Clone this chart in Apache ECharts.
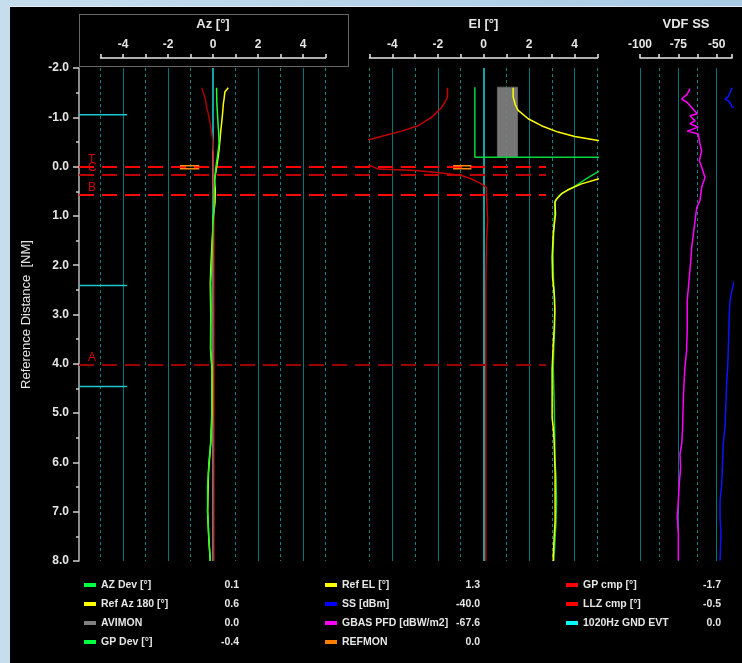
<!DOCTYPE html>
<html><head><meta charset="utf-8">
<script src="https://cdn.jsdelivr.net/npm/echarts@6/dist/echarts.min.js"></script>
<style>
html,body{margin:0;padding:0;width:742px;height:663px;overflow:hidden;background:linear-gradient(90deg,#c6ddee 0%,#a8cae4 100%);}
#panel{position:absolute;left:10px;top:6px;width:732px;height:657px;background:#000;border-top:1px solid #e3ecf4;box-sizing:border-box;}
#chart{position:absolute;left:0;top:0;width:742px;height:663px;}
</style></head><body><div id="panel"></div><div id="chart"></div>
<script>
// ---------- data ----------
const distMin = -2, distMax = 8;
const azLabelValues = [-4, -2, 0, 2, 4];
const elLabelValues = [-4, -2, 0, 2, 4];
const vdfLabelValues = [-100, -75, -50];
const zeroLines = [0];

const thresholdNames = ['T', 'C', 'B', 'A'];
const thresholdDist = [0.0, 0.16, 0.575, 4.01];
const thresholdColors = ['#ff0000', '#c00000', '#ff0a0a', '#9a0000'];

const gndEvtDist = [-1.05, 2.41, 4.46];

// [deg, NM]
const azDev = [[0.16,-1.6],[0.17,-1.3],[0.19,-1.14],[0.22,-0.9],[0.25,-0.7],[0.27,-0.46],[0.19,-0.19],[0.13,0.01],[0.09,0.22],[0.06,0.49],[0.04,0.83],[-0.01,1.23],[-0.03,1.6],[-0.06,2.0],[-0.1,2.35],[-0.09,2.8],[-0.1,3.3],[-0.1,3.7],[-0.04,4.1],[-0.05,4.6],[-0.06,5.2],[-0.1,5.6],[-0.18,6.0],[-0.24,6.5],[-0.24,7.0],[-0.19,7.5],[-0.12,8.0]];
const refAz180 = [[0.68,-1.6],[0.6,-1.57],[0.53,-1.52],[0.5,-1.4],[0.46,-1.27],[0.42,-1.05],[0.38,-0.87],[0.34,-0.7],[0.31,-0.53],[0.27,-0.35],[0.23,-0.19],[0.16,0.01],[0.06,0.28],[0.1,0.45],[0.09,0.72],[0.02,1.0],[0.0,1.23],[-0.05,1.6],[-0.1,2.1],[-0.12,2.35],[-0.1,3.0],[-0.11,3.7],[-0.04,4.15],[-0.05,5.0],[-0.1,5.6],[-0.2,6.2],[-0.24,7.0],[-0.18,7.6],[-0.12,8.0]];
const llzCmpUpper = [[-0.5,-1.6],[-0.43,-1.5],[-0.36,-1.41],[-0.28,-1.2],[-0.21,-1.07],[-0.15,-0.93],[-0.1,-0.8],[-0.04,-0.62],[-0.01,-0.53],[0.01,-0.32]];
const llzCmpLower = [[0.01,-0.32],[0.02,0.0],[0.03,1.0],[0.03,8.0]];

const gpCmp = [[-1.58,-1.6],[-1.58,-1.41],[-1.7,-1.3],[-1.84,-1.2],[-2.05,-1.1],[-2.28,-1.0],[-2.86,-0.83],[-3.6,-0.72],[-4.33,-0.63],[-4.91,-0.56],[-6.5,-0.45],[-7.5,-0.2],[-6.2,-0.04],[-4.91,-0.01],[-4.62,0.05],[-3.01,0.08],[-1.99,0.12],[-0.96,0.18],[-0.53,0.25],[-0.09,0.35],[0.12,0.42],[0.18,0.46],[0.18,1.1],[0.13,1.5],[0.1,2.5],[0.1,8.0]];
const gpDev = [[-0.38,-1.61],[-0.38,-0.19],[9,-0.19],[9,-0.05],[6.5,0.03],[5.03,0.10],[4.5,0.25],[4.0,0.40],[3.6,0.5],[3.3,0.6],[3.15,0.7],[3.14,0.8],[3.12,0.96],[3.08,1.3],[3.05,1.8],[3.07,2.3],[3.12,2.7],[3.12,3.3],[3.08,3.7],[3.06,4.1],[3.1,4.8],[3.12,5.4],[3.14,6.0],[3.18,6.3],[3.2,6.8],[3.18,7.2],[3.12,7.7],[3.08,8.0]];
const refEl = [[1.30,-1.6],[1.30,-1.41],[1.40,-1.25],[1.52,-1.14],[1.96,-0.97],[2.54,-0.83],[3.27,-0.7],[4.0,-0.61],[5.03,-0.53],[8,-0.35],[8,0.15],[5.03,0.25],[4.3,0.35],[4.0,0.41],[3.71,0.47],[3.42,0.55],[3.2,0.66],[3.13,0.72],[3.16,0.96],[3.06,1.36],[3.01,1.84],[3.03,2.25],[3.1,2.58],[3.13,2.92],[3.1,3.3],[3.06,3.6],[3.01,4.1],[3.01,5.1],[3.06,5.3],[3.1,5.6],[3.14,6.2],[3.14,7.2],[3.1,7.5],[3.06,7.9],[3.06,8.0]];
const avimonBox = [[0.61,-1.61],[1.49,-0.19]];
const refmonAzRange = [-1.47, -0.61];
const refmonElRange = [-1.33, -0.53];
const refmonDist = [-0.015, 0.045];

// [dB, NM]
const gbasPfd = [[-67.4,-1.58],[-69.2,-1.47],[-72.8,-1.37],[-69.2,-1.30],[-66.3,-1.20],[-62.6,-1.07],[-67.4,-1.03],[-64.1,-0.93],[-67.4,-0.87],[-62.0,-0.80],[-69.2,-0.72],[-62.0,-0.66],[-60.9,-0.46],[-59.8,-0.32],[-61.3,-0.12],[-59.8,0.01],[-57.6,0.22],[-59.8,0.42],[-60.9,0.69],[-63.0,0.83],[-64.1,1.10],[-65.2,1.37],[-66.3,1.64],[-66.9,1.91],[-68.0,2.3],[-69.2,2.72],[-69.2,3.33],[-69.6,3.73],[-70.7,4.07],[-71.3,4.41],[-71.8,4.75],[-72.2,5.29],[-72.8,5.62],[-73.9,5.83],[-73.5,6.10],[-74.4,6.44],[-75.0,6.78],[-75.7,7.11],[-75.0,7.45],[-75.0,7.99]];
const ssDbm = [[-40.0,-1.6],[-41.0,-1.52],[-42.5,-1.42],[-44.6,-1.37],[-42.0,-1.33],[-40.8,-1.27],[-40.2,-1.22],[-35,-1.15],[-30,-1.0],[-30,1.1],[-33.7,1.4],[-35,1.8],[-37.5,2.2],[-40,2.5],[-41.3,2.72],[-41.8,3.0],[-42.2,3.5],[-42.8,4.07],[-43.5,4.41],[-43.9,4.75],[-44.6,5.29],[-45.7,5.62],[-46.1,5.95],[-46.7,6.44],[-47.8,6.78],[-47.8,7.11],[-47.2,7.45],[-47.8,7.99]];

const legendNames = ['AZ Dev [°]','Ref Az 180 [°]','AVIMON','GP Dev [°]','Ref EL [°]','SS [dBm]','GBAS PFD [dBW/m2]','REFMON','GP cmp [°]','LLZ cmp [°]','1020Hz GND EVT'];
const legendValues = ['0.1','0.6','0.0','-0.4','1.3','-40.0','-67.6','0.0','-1.7','-0.5','0.0'];
const legendColors = ['#00ff40','#ffff00','#808080','#00ff40','#ffff00','#0000ff','#ff00ff','#ff8000','#ff0000','#ff0000','#00ffff'];

// ---------- chart ----------
const FONT = "'Liberation Sans', Arial, sans-serif";
const TXT = '#e6e6e6';
const GRID_TOP = 68, GRID_H = 493;

function segs(xRange, ys) {
  const out = [];
  ys.forEach((y, i) => { if (i) out.push(null); out.push([xRange[0], y], [xRange[1], y]); });
  return out;
}
function visAxis(gi, min, max, interval, name, labelVals, showMax) {
  return {type:'value', gridIndex:gi, position:'top', offset:10, min, max, interval,
    name, nameLocation:'middle', nameGap:27,
    nameTextStyle:{color:TXT, fontSize:13, fontWeight:'bold', fontFamily:FONT},
    axisLine:{show:true, onZero:false, lineStyle:{color:'#e8e8e8', width:1.5}},
    axisTick:{show:true, length:4, lineStyle:{color:'#e8e8e8', width:1.5}},
    axisLabel:{color:TXT, fontSize:12, fontWeight:'bold', fontFamily:FONT, margin:7, hideOverlap:false,
      formatter: v => labelVals.includes(v) ? String(v) : ''},
    splitLine:{show:true, showMaxLine:showMax, lineStyle:{color:'#0b8686', type:[3,3], width:1}}
  };
}
function solidAxis(gi, min, max, interval, minor) {
  return {type:'value', gridIndex:gi, position:'bottom', min, max, interval,
    axisLine:{show:false}, axisTick:{show:false}, axisLabel:{show:false},
    splitLine:{show:!minor, showMaxLine:false, lineStyle:{color:'#087474', width:1}},
    minorTick:{show:false, splitNumber:2},
    minorSplitLine:{show:!!minor, lineStyle:{color:'#087474', width:1}}
  };
}
function hiddenY(gi) {
  return {type:'value', gridIndex:gi, min:distMin, max:distMax, inverse:true, show:false};
}
function lineS(name, xi, yi, data, color, width, z, extra) {
  return Object.assign({type:'line', name, xAxisIndex:xi, yAxisIndex:yi, data, showSymbol:false, symbol:'none',
    lineStyle:{color, width}, itemStyle:{color}, z, animation:false, silent:true}, extra || {});
}
function legendCol(left, names) {
  return {orient:'vertical', left, top:578, padding:0, itemGap:5, itemWidth:12, itemHeight:4, icon:'rect',
    selectedMode:false,
    data: names.map(n => ({name:n, itemStyle:{color:legendColors[legendNames.indexOf(n)]}, lineStyle:{width:0}})),
    formatter: n => '{n|' + n + '}{v|' + legendValues[legendNames.indexOf(n)] + '}',
    textStyle:{color:TXT, fontFamily:FONT, fontWeight:'bold', fontSize:10.5, lineHeight:14,
      rich:{n:{width:108, color:TXT, fontFamily:FONT, fontWeight:'bold', fontSize:10.5},
            v:{width:30, align:'right', color:TXT, fontFamily:FONT, fontWeight:'bold', fontSize:10.5}}}
  };
}

const option = {
  backgroundColor:'transparent',
  animation:false,
  grid:[
    {left:79, top:GRID_TOP, width:467, height:GRID_H},      // 0 overlay + y axis
    {left:100.5, top:GRID_TOP, width:225, height:GRID_H},   // 1 Az
    {left:369.5, top:GRID_TOP, width:228, height:GRID_H},   // 2 El
    {left:640, top:GRID_TOP, width:92, height:GRID_H},      // 3 VDF
    {left:79, top:GRID_TOP, width:48, height:GRID_H}        // 4 events
  ],
  xAxis:[
    {type:'value', gridIndex:0, min:0, max:1, show:false},
    visAxis(1, -5, 5, 1, 'Az [°]', azLabelValues, true),
    solidAxis(1, -5, 5, 2, true),
    visAxis(2, -5, 5, 1, 'El [°]', elLabelValues, true),
    solidAxis(2, -5, 5, 2, true),
    visAxis(3, -100, -40, 12.5, 'VDF SS', vdfLabelValues, false),
    solidAxis(3, -100, -40, 25, false),
    {type:'value', gridIndex:4, min:0, max:1, show:false}
  ],
  yAxis:[
    {type:'value', gridIndex:0, min:distMin, max:distMax, interval:1, inverse:true,
      name:'Reference Distance  [NM]', nameLocation:'middle', nameGap:46,
      nameTextStyle:{color:TXT, fontSize:13, fontFamily:FONT},
      axisLine:{show:true, onZero:false, lineStyle:{color:'#b8b8b8', width:1.5}},
      axisTick:{show:true, length:6, lineStyle:{color:'#d0d0d0', width:1.5}},
      minorTick:{show:true, splitNumber:2, length:3, lineStyle:{color:'#d0d0d0', width:1.5}},
      axisLabel:{color:TXT, fontSize:12, fontWeight:'bold', fontFamily:FONT, margin:10, formatter:v => v.toFixed(1)},
      splitLine:{show:false}},
    hiddenY(1), hiddenY(2), hiddenY(3), hiddenY(4)
  ],
  legend:[
    legendCol(84, legendNames.slice(0,4)),
    legendCol(325, legendNames.slice(4,8)),
    legendCol(566, legendNames.slice(8,11))
  ],
  graphic:[
    {type:'rect', shape:{x:79.5, y:14.5, width:269, height:52}, silent:true,
      style:{fill:'none', stroke:'#cfcfcf', lineWidth:1, lineDash:[1,1]}}
  ],
  series:[
    lineS('zeroAz', 1, 1, [], '#10a0a0', 2, 1, {markLine:{silent:true, symbol:'none', label:{show:false},
      lineStyle:{color:'#12a3a3', width:2, type:'solid'}, data: zeroLines.map(v => ({xAxis:v}))}}),
    lineS('zeroEl', 3, 2, [], '#10a0a0', 2, 1, {markLine:{silent:true, symbol:'none', label:{show:false},
      lineStyle:{color:'#12a3a3', width:2, type:'solid'}, data: zeroLines.map(v => ({xAxis:v}))}}),
    lineS('AVIMON', 3, 2, [], '#808080', 1, 2, {markArea:{silent:true,
      itemStyle:{color:'rgba(128,128,128,0.92)', borderColor:'#666', borderWidth:1},
      data:[[{coord:avimonBox[0]}, {coord:avimonBox[1]}]]}}),
    lineS('thr', 0, 0, [], '#ff0000', 2, 4, {markLine:{silent:true, symbol:'none',
      data: thresholdNames.map((n, i) => ({name:n, yAxis:thresholdDist[i],
        lineStyle:{color:thresholdColors[i], width:2, type:[15,8]},
        label:{show:true, formatter:'{b}', position:'insideStartTop', distance:[9,1], color:'#d40000', fontSize:12, fontFamily:FONT}}))}}),
    lineS('1020Hz GND EVT', 7, 4, segs([0,1], gndEvtDist), '#19c8d0', 1.5, 5),
    lineS('Ref Az 180 [°]', 1, 1, refAz180, '#ffff00', 1.5, 5),
    lineS('AZ Dev [°]', 1, 1, azDev, '#19ff30', 1.5, 6),
    lineS('LLZ cmp [°]', 1, 1, llzCmpLower, '#ff1a1a', 1.5, 5),
    lineS('LLZ cmp [°]', 1, 1, llzCmpUpper, '#a80000', 1.5, 5),
    lineS('REFMON', 1, 1, segs(refmonAzRange, refmonDist), '#ff8a10', 1.5, 6),
    lineS('GP cmp [°]', 3, 2, gpCmp, '#c40000', 1.5, 5),
    lineS('GP Dev [°]', 3, 2, gpDev, '#00d83a', 1.5, 5),
    lineS('Ref EL [°]', 3, 2, refEl, '#ffff00', 1.5, 6),
    lineS('REFMON', 3, 2, segs(refmonElRange, refmonDist), '#ff8a10', 1.5, 6),
    lineS('GBAS PFD [dBW/m2]', 5, 3, gbasPfd, '#ff00ff', 1.5, 5),
    lineS('SS [dBm]', 5, 3, ssDbm, '#0a14ff', 1.5, 5, {clip:false})
  ]
};
const chart = echarts.init(document.getElementById('chart'), null, {renderer:'canvas'});
chart.setOption(option);
</script></body></html>
